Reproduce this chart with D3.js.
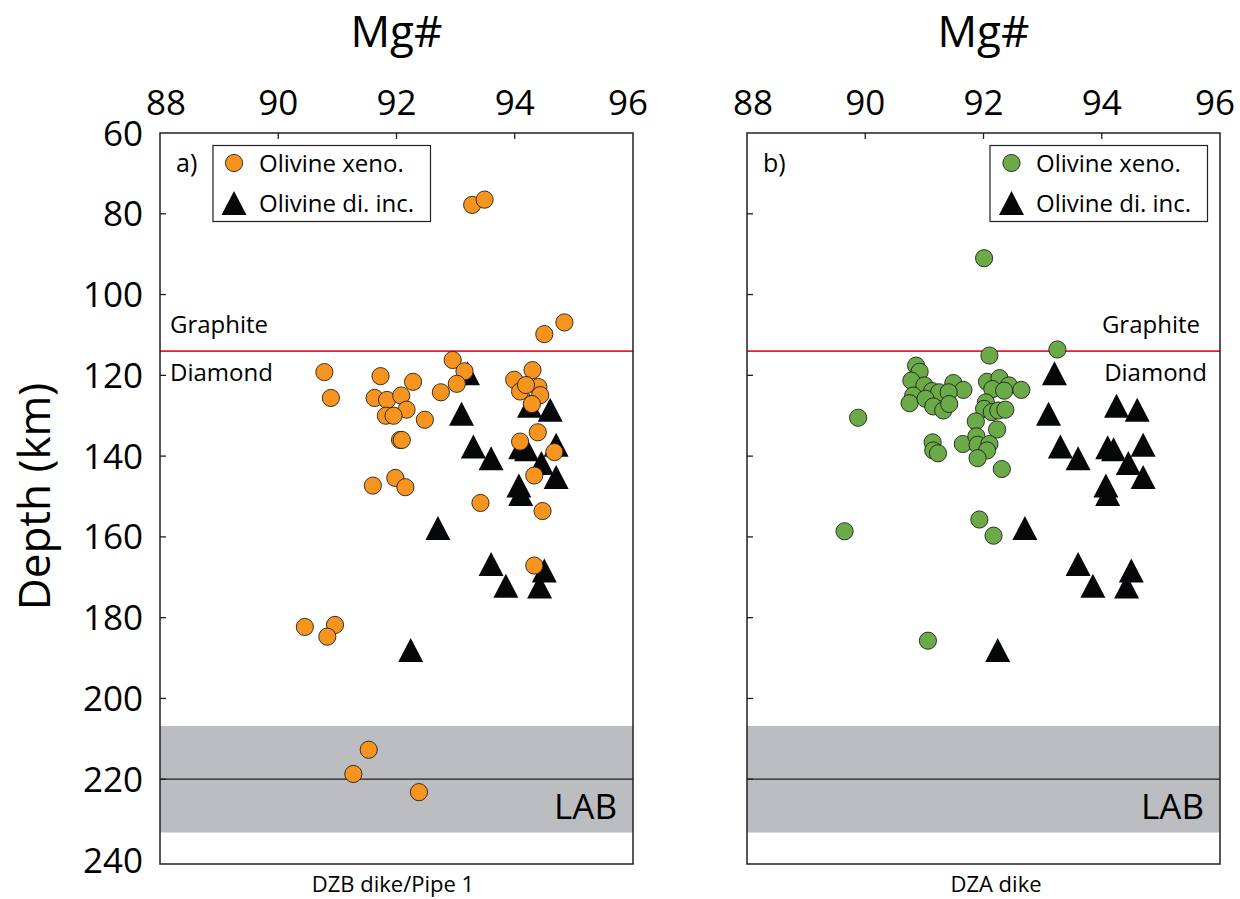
<!DOCTYPE html>
<html>
<head>
<meta charset="utf-8">
<script src="https://cdn.jsdelivr.net/npm/d3@7"></script>
<style>
  body { margin: 0; background: #fff; }
  svg { font-family: "Open Sans", sans-serif; }
</style>
</head>
<body>
<svg id="chart" width="1240" height="899"></svg>
<script>
// Axis ticks
const mgTicks = [88, 90, 92, 94, 96];
const depthTicks = [60, 80, 100, 120, 140, 160, 180, 200, 220, 240];

// Reference levels (km)
const graphiteDiamondDepth = 114;
const labDepth = 220;
const labBand = [206.8, 233.2];

// Olivine diamond inclusions [Mg#, depth] (same set in both panels)
const diIncl = [
  [93.2, 119.5], [93.1, 129.5], [94.25, 127.5], [94.6, 128.5], [93.3, 137.6],
  [93.6, 140.5], [94.1, 137.8], [94.2, 138.3], [94.7, 137.2], [94.45, 141.7],
  [94.7, 145.2], [94.07, 147.3], [94.1, 149.4], [92.7, 157.8], [93.6, 166.7],
  [94.5, 168.3], [93.85, 172.1], [94.42, 172.3], [92.24, 188]
];

// Olivine xenocrysts, DZB dike / Pipe 1
const xenoDZB = [
  [94.84, 106.9], [94.50, 109.8], [90.78, 119.2], [90.89, 125.6], [91.73, 120.2],
  [92.28, 121.6], [91.63, 125.6], [91.84, 126.1], [92.08, 125.0], [92.17, 128.5],
  [91.82, 130.0], [91.95, 130.0], [92.48, 131.0], [92.75, 124.2], [92.95, 116.2],
  [93.15, 119.0], [93.02, 122.1], [92.06, 136.0], [92.09, 136.0], [93.99, 121.1],
  [94.30, 118.7], [94.40, 122.9], [94.43, 124.9], [94.09, 124.0], [94.19, 122.4],
  [94.29, 127.1], [94.39, 134.1], [94.09, 136.4], [94.67, 139.0], [91.60, 147.3],
  [91.98, 145.4], [92.15, 147.7], [94.33, 144.8], [93.42, 151.6], [94.47, 153.6],
  [93.28, 77.8], [93.49, 76.5], [94.33, 167.1], [90.45, 182.3], [90.96, 181.8],
  [90.83, 184.7], [91.53, 212.7], [91.27, 218.7], [92.38, 223.2]
];

// Olivine xenocrysts, DZA dike
const xenoDZA = [
  [92.01, 91.0], [93.25, 113.6], [92.10, 115.1], [90.86, 117.6], [90.92, 119.1],
  [90.78, 121.3], [91.0, 122.5], [91.13, 123.9], [91.25, 124.2], [91.49, 121.9],
  [91.66, 123.6], [91.41, 124.2], [90.81, 125.0], [90.75, 126.9], [91.02, 125.8],
  [91.15, 127.7], [91.32, 128.7], [91.42, 127.1], [92.06, 121.6], [92.27, 120.7],
  [92.15, 123.4], [92.43, 122.5], [92.64, 123.6], [92.35, 123.8], [92.04, 126.7],
  [92.01, 128.3], [92.14, 129.1], [92.25, 128.7], [92.37, 128.5], [91.87, 131.4],
  [92.23, 133.4], [89.88, 130.5], [91.14, 136.6], [91.15, 138.6], [91.23, 139.3],
  [91.65, 137.0], [91.88, 135.1], [91.90, 137.2], [92.10, 137.0], [92.06, 138.6],
  [91.90, 140.5], [92.31, 143.2], [89.65, 158.6], [91.93, 155.7], [92.17, 159.7],
  [91.06, 185.7]
];

const panels = [
  { id: 'a', x0: 160, x1: 633, xeno: xenoDZB, fill: '#F7941D', name: 'DZB dike/Pipe 1',
    labels: true, legendX: 213, markerX: 234, textX: 259, rockAnchor: 'start',
    graphiteX: 170, diamondX: 170, nameX: 393 },
  { id: 'b', x0: 747, x1: 1220, xeno: xenoDZA, fill: '#6AAB47', name: 'DZA dike',
    labels: false, legendX: 990, markerX: 1011.5, textX: 1036, rockAnchor: 'end',
    graphiteX: 1200, diamondX: 1207, nameX: 996 }
];

const svg = d3.select('#chart');
const y = d3.scaleLinear().domain([60, 240]).range([133, 860]);
const triPath = 'M0,-12L12.5,12L-12.5,12Z';
const ink = '#231f20';

panels.forEach(p => {
  const x = d3.scaleLinear().domain([88, 96]).range([p.x0, p.x1]);
  const g = svg.append('g');
  const yTop = y(60), yBot = y(240) + 4;

  // LAB band and line
  g.append('rect')
    .attr('x', p.x0).attr('width', p.x1 - p.x0)
    .attr('y', y(labBand[0])).attr('height', y(labBand[1]) - y(labBand[0]))
    .attr('fill', '#BCBDC0');
  g.append('line')
    .attr('x1', p.x0).attr('x2', p.x1)
    .attr('y1', y(labDepth)).attr('y2', y(labDepth))
    .attr('stroke', ink).attr('stroke-width', 1.3);
  g.append('text')
    .attr('x', p.x1 - 16).attr('y', y(labDepth) + 40)
    .attr('text-anchor', 'end').style('font-size', '35px')
    .text('LAB');

  // Graphite / diamond boundary
  g.append('line')
    .attr('x1', p.x0).attr('x2', p.x1)
    .attr('y1', y(graphiteDiamondDepth)).attr('y2', y(graphiteDiamondDepth))
    .attr('stroke', '#E21F35').attr('stroke-width', 1.6);
  g.append('text')
    .attr('x', p.graphiteX).attr('y', y(graphiteDiamondDepth) - 18)
    .attr('text-anchor', p.rockAnchor).style('font-size', '24px')
    .text('Graphite');
  g.append('text')
    .attr('x', p.diamondX).attr('y', y(graphiteDiamondDepth) + 30)
    .attr('text-anchor', p.rockAnchor).style('font-size', '24px')
    .text('Diamond');

  // Frame
  g.append('rect')
    .attr('x', p.x0).attr('y', yTop)
    .attr('width', p.x1 - p.x0).attr('height', yBot - yTop)
    .attr('fill', 'none').attr('stroke', ink).attr('stroke-width', 1.5);

  // Top ticks (inward) and labels
  g.selectAll('.xtick').data(mgTicks.slice(1, -1)).enter().append('line')
    .attr('x1', d => x(d)).attr('x2', d => x(d))
    .attr('y1', yTop).attr('y2', yTop + 6)
    .attr('stroke', ink).attr('stroke-width', 1.3);
  g.selectAll('.xlab').data(mgTicks).enter().append('text')
    .attr('x', d => x(d) + (d === 88 ? 6 : d === 96 ? -5 : 0))
    .attr('y', 115)
    .attr('text-anchor', 'middle').style('font-size', '35px')
    .text(d => d);
  g.append('text')
    .attr('x', (p.x0 + p.x1) / 2).attr('y', 47)
    .attr('text-anchor', 'middle').style('font-size', '44px')
    .text('Mg#');

  // Left ticks (inward)
  g.selectAll('.ytick').data(depthTicks.slice(1, -1)).enter().append('line')
    .attr('x1', p.x0).attr('x2', p.x0 + 6)
    .attr('y1', d => y(d)).attr('y2', d => y(d))
    .attr('stroke', ink).attr('stroke-width', 1.3);
  if (p.labels) {
    g.selectAll('.ylab').data(depthTicks).enter().append('text')
      .attr('x', 143).attr('y', d => y(d))
      .attr('dy', '0.36em')
      .attr('text-anchor', 'end').style('font-size', '35px')
      .text(d => d);
    g.append('text')
      .attr('transform', `translate(50, ${(y(60) + y(240)) / 2}) rotate(-90)`)
      .attr('text-anchor', 'middle').style('font-size', '44px')
      .text('Depth (km)');
  }

  // Data: triangles then circles
  g.selectAll('.tri').data(diIncl).enter().append('path')
    .attr('d', triPath)
    .attr('transform', d => `translate(${x(d[0])},${y(d[1])})`)
    .attr('fill', '#050708');
  g.selectAll('.dot').data(p.xeno).enter().append('circle')
    .attr('cx', d => x(d[0])).attr('cy', d => y(d[1]))
    .attr('r', 8.6)
    .attr('fill', p.fill).attr('stroke', ink).attr('stroke-width', 0.9);

  // Panel letter
  g.append('text')
    .attr('x', p.x0 + 16).attr('y', 172)
    .style('font-size', '25px')
    .text(p.id + ')');

  // Legend
  const lg = g.append('g');
  lg.append('rect')
    .attr('x', p.legendX).attr('y', 145.5)
    .attr('width', 217.5).attr('height', 76)
    .attr('fill', '#fff').attr('stroke', ink).attr('stroke-width', 1.2);
  lg.append('circle')
    .attr('cx', p.markerX).attr('cy', 163).attr('r', 8.6)
    .attr('fill', p.fill).attr('stroke', ink).attr('stroke-width', 0.9);
  lg.append('path')
    .attr('d', triPath)
    .attr('transform', `translate(${p.markerX},${203})`)
    .attr('fill', '#050708');
  lg.append('text')
    .attr('x', p.textX).attr('y', 172).style('font-size', '24px')
    .text('Olivine xeno.');
  lg.append('text')
    .attr('x', p.textX).attr('y', 212).style('font-size', '24px')
    .text('Olivine di. inc.');

  // Sample name
  g.append('text')
    .attr('x', p.nameX).attr('y', 892)
    .attr('text-anchor', 'middle').style('font-size', '22px')
    .text(p.name);
});
</script>
</body>
</html>
